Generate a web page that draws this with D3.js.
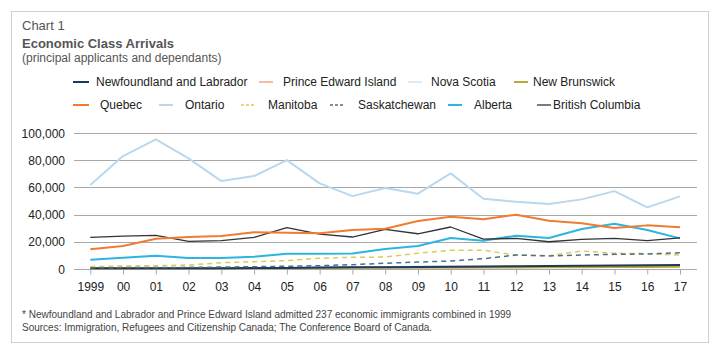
<!DOCTYPE html>
<html><head><meta charset="utf-8">
<script src="https://cdn.jsdelivr.net/npm/d3@7"></script>
<style>body{margin:0;background:#fff;font-family:"Liberation Sans",Arial,sans-serif;}</style>
</head><body><svg id="c" width="718" height="355"></svg>
<script>
const years = ["1999","00","01","02","03","04","05","06","07","08","09","10","11","12","13","14","15","16","17"];
const yTicks = [0,20000,40000,60000,80000,100000];
const seriesNames = ["Newfoundland and Labrador","Prince Edward Island","Nova Scotia","New Brunswick","Quebec","Ontario","Manitoba","Saskatchewan","Alberta","British Columbia"];
const newfoundland = [250,300,350,400,400,500,600,800,1000,1100,1300,1500,1600,1800,2000,2200,2300,2600,2700];
const pei = [100,150,200,250,300,400,500,700,900,800,700,700,900,1000,1100,1300,1500,1900,2100];
const novaScotia = [500,600,700,600,600,700,800,1000,1300,1500,1800,1900,1700,1500,1400,1600,1900,2300,2400];
const newBrunswick = [100,150,200,250,300,300,400,600,700,800,900,900,800,900,1000,1100,1200,1300,1400];
const quebec = [14300,16800,22100,23400,24100,26900,26600,26100,28600,29500,35200,38400,36500,39900,35400,33500,30000,32000,30600];
const ontario = [61800,83200,95500,81500,64700,68400,80200,63000,53600,59600,55400,70400,51700,49400,47700,51200,57300,45300,53400];
const manitoba = [1500,2000,2200,2700,4400,5200,6000,7700,8400,8600,11400,13600,13600,10100,9600,13100,11400,11100,10100];
const saskatchewan = [600,800,900,1000,1200,1500,1800,2200,3000,4000,4900,5700,7400,10100,9400,10100,10600,10900,11800];
const alberta = [6600,8100,9600,7900,7900,8900,11100,11100,11300,14500,16800,22700,20700,24400,22700,29300,33200,28600,22400];
const britishColumbia = [23200,24100,24600,20200,20700,23200,30300,25600,23400,29100,25800,30800,21900,22400,19900,21700,22400,20700,22700];
const footnotes = ["* Newfoundland and Labrador and Prince Edward Island admitted 237 economic immigrants combined in 1999",
  "Sources: Immigration, Refugees and Citizenship Canada; The Conference Board of Canada."];

const dataBy = [newfoundland,pei,novaScotia,newBrunswick,quebec,ontario,manitoba,saskatchewan,alberta,britishColumbia];
const styles = [
  {c:"#1d3a5b",w:2,d:null},
  {c:"#f3a67c",w:1.5,d:null},
  {c:"#cfe4f2",w:1.5,d:null},
  {c:"#b9a83a",w:2,d:null},
  {c:"#f07c30",w:2,d:null},
  {c:"#b9d8ee",w:2,d:null},
  {c:"#dccb55",w:1.5,d:"5,4"},
  {c:"#4e6f8c",w:1.5,d:"5,4"},
  {c:"#2db4e0",w:2,d:null},
  {c:"#333333",w:1.3,d:null}
];
// legend layout (row, lineX, textX)
const legendLayout = [[0,73,96],[0,259,283],[0,408,431],[0,514,533],[1,73,100],[1,159,185],[1,241,268],[1,330,358],[1,448,474],[1,537,553]];

const svg = d3.select("#c");
const font = '"Liberation Sans",Arial,sans-serif';
svg.append("rect").attr("x",11.5).attr("y",11.5).attr("width",697).attr("height",331)
  .attr("fill","none").attr("stroke","#cfcfcf");

svg.append("text").attr("x",22).attr("y",30).attr("font-size",13).attr("fill","#555").attr("font-family",font).text("Chart 1");
svg.append("text").attr("x",22).attr("y",48).attr("font-size",13).attr("font-weight","bold").attr("fill","#555").attr("font-family",font).text("Economic Class Arrivals");
svg.append("text").attr("x",22).attr("y",62).attr("font-size",12).attr("fill","#555").attr("font-family",font).text("(principal applicants and dependants)");

const rowY = [82,105];
const lg = svg.append("g");
seriesNames.forEach((n,i)=>{
  const [r,lx,tx] = legendLayout[i];
  const s = styles[i];
  const len = (i===0||i===4)?10:14;
  lg.append("line").attr("x1",lx).attr("x2",lx+len+ (i===0||i===4?6:0)).attr("y1",rowY[r]).attr("y2",rowY[r])
    .attr("stroke",s.c).attr("stroke-width",s.w).attr("stroke-dasharray",s.d ? "3,2" : null);
  lg.append("text").attr("x",tx).attr("y",rowY[r]+4).attr("font-size",12).attr("fill","#222").attr("font-family",font).text(n);
});

const x = d3.scalePoint().domain(years).range([90.3,680]);
const y = d3.scaleLinear().domain([0,100000]).range([268.7,133.3]);

const grid = svg.append("g");
yTicks.forEach(t=>{
  grid.append("line").attr("x1",74).attr("x2",697).attr("y1",Math.round(y(t))+0.5).attr("y2",Math.round(y(t))+0.5)
    .attr("stroke","#a8a8a8").attr("stroke-width",1);
});
const yAxis = svg.append("g").attr("transform","translate(74,0.5)")
  .call(d3.axisLeft(y).tickValues(yTicks).tickSize(0).tickPadding(9).tickFormat(d3.format(",")));
yAxis.select(".domain").remove();
yAxis.selectAll("text").attr("font-size",12).attr("fill","#222").attr("font-family",font);

const xAxis = svg.append("g").attr("transform",`translate(0,${Math.round(y(0))+0.5})`)
  .call(d3.axisBottom(x).tickSize(5).tickPadding(8));
xAxis.select(".domain").remove();
xAxis.selectAll("line").attr("stroke","#a8a8a8");
xAxis.selectAll("text").attr("font-size",12).attr("fill","#222").attr("font-family",font);

const line = d3.line().x((d,i)=>x(years[i])).y(d=>y(d));
const order = [2,1,3,0,6,7,8,9,4,5];
order.forEach(i=>{
  const s = styles[i];
  svg.append("path").datum(dataBy[i]).attr("d",line).attr("fill","none")
    .attr("stroke",s.c).attr("stroke-width",s.w).attr("stroke-dasharray",s.d)
    .attr("stroke-linejoin","round");
});

footnotes.forEach((t,i)=>{
  svg.append("text").attr("x",22).attr("y",318+i*13).attr("font-size",10).attr("fill","#444").attr("font-family",font).text(t);
});
</script></body></html>
